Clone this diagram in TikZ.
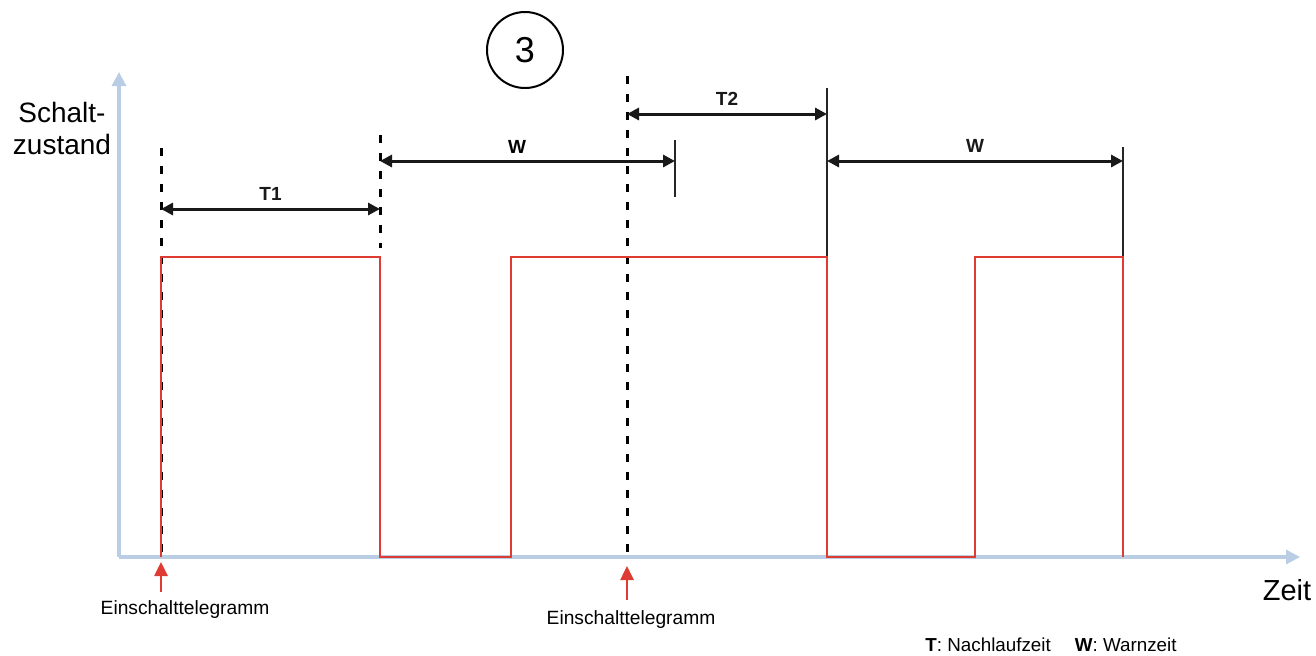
\documentclass[tikz,border=0pt]{standalone}
\usepackage{fontspec}
\setmainfont{Liberation Sans}
\usetikzlibrary{arrows.meta,calc,positioning}
\definecolor{axisblue}{RGB}{185,205,228}
\definecolor{signalred}{RGB}{222,60,50}

\begin{document}
\begin{tikzpicture}[>=Latex,line cap=butt,line join=miter,
 x=0.5pt,y=-0.5pt,
 axis/.style={axisblue,line width=1.6pt,-{Triangle[length=7pt,width=7pt]}},
 signal/.style={signalred,line width=1.4pt},
 mark line/.style={black,line width=1.5pt,dash pattern=on 4pt off 5pt},
 edge line/.style={black!85,line width=1pt},
 span/.style={black!90,line width=1.5pt,{Triangle[length=6pt,width=6pt]}-{Triangle[length=6pt,width=6pt]}},
 spanlabel/.style={font=\bfseries\fontsize{9.5}{10}\selectfont,above=0pt},
 trigger/.style={signalred,line width=1.3pt,-{Triangle[length=7pt,width=6.5pt]}},
 caption/.style={font=\fontsize{9.6}{11}\selectfont}]
 \useasboundingbox (0,0) rectangle (1316,655);
 % axes
 \coordinate (o) at (119,557);
 \coordinate (ytip) at (119,72);
 \coordinate (xtip) at (1300,557);
 \draw[axis] (o)--(ytip);
 \draw[axis] (o)--(xtip);
 \node[font=\fontsize{14}{16}\selectfont,align=center] (state)
  at (62,128) {Schalt-\\zustand};
 \node[font=\fontsize{14.5}{16}\selectfont] (time) at (1287,590) {Zeit};
 % markers
 \draw[mark line] (161,148)--(161,557);
 \draw[mark line] (380,135)--(380,248);
 \draw[mark line] (627,76)--(627,553);
 \draw[edge line] (675,140)--(675,197);
 \draw[edge line] (827,88)--(827,257);
 \draw[edge line] (1123,147)--(1123,257);
 % switching signal
 \draw[signal] (161,557)--(161,257)--(380,257)--(380,557)--(511,557)
  --(511,257)--(827,257)--(827,557)--(975,557)--(975,257)--(1123,257)
  --(1123,557);
 % spans
 \coordinate (t1a) at (161,209);
 \coordinate (t1b) at (380,209);
 \coordinate (w1a) at (380,161);
 \coordinate (w1b) at (675,161);
 \coordinate (t2a) at (627,114);
 \coordinate (t2b) at (827,114);
 \coordinate (w2a) at (827,161);
 \coordinate (w2b) at (1123,161);
 \draw[span] (t1a)--(t1b) node[midway,spanlabel] {T1};
 \draw[span] (w1a)--(w1b);
 \node[spanlabel] at (517,161) {W};
 \draw[span] (t2a)--(t2b) node[midway,spanlabel] {T2};
 \draw[span] (w2a)--(w2b) node[midway,spanlabel] {W};
 % phase number
 \node[draw,circle,line width=1pt,minimum size=38pt,inner sep=0pt,
  font=\fontsize{18}{20}\selectfont] (phase) at (525,50) {3};
 % telegrams
 \coordinate (tg1) at (161,592);
 \coordinate (tg2) at (627,600);
 \draw[trigger] (tg1)--(161,562);
 \draw[trigger] (tg2)--(627,566);
 \node[caption,below=1pt of tg1,xshift=12pt] (tel1) {Einschalttelegramm};
 \node[caption,below=2pt of tg2,xshift=2pt] (tel2) {Einschalttelegramm};
 % legend
 \node[caption,font=\fontsize{9.4}{11}\selectfont] (legend) at (1051,645)
  {\textbf{T}: Nachlaufzeit\quad\ \textbf{W}: Warnzeit};
\end{tikzpicture}
\end{document}
